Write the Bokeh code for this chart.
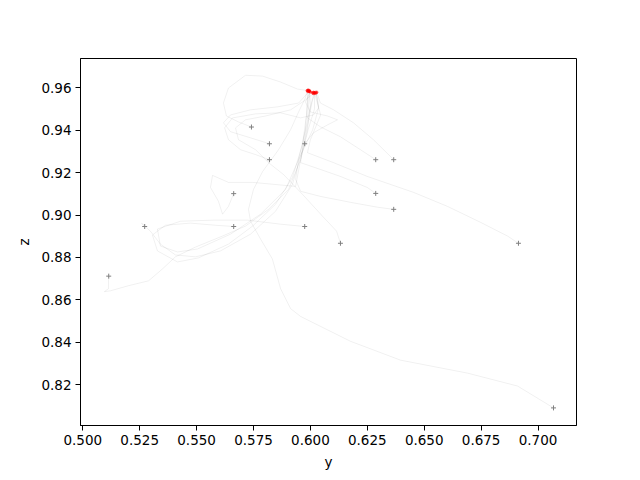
from bokeh.plotting import figure
from bokeh.models import Range1d, FixedTicker, NumeralTickFormatter
from bokeh.embed import file_html
from bokeh.resources import INLINE

# start points (grey '+')
start_x = [0.5114, 0.5272, 0.5663, 0.5663, 0.5741, 0.5820, 0.5820, 0.5975,
           0.5975, 0.6132, 0.6287, 0.6366, 0.6287, 0.6366, 0.6914, 0.7068]
start_y = [0.8712, 0.8946, 0.8946, 0.9101, 0.9415, 0.9336, 0.9261, 0.9336,
           0.8946, 0.8867, 0.9261, 0.9261, 0.9102, 0.9027, 0.8867, 0.8091]

# end points (red)
end_x = [0.5986, 0.5988, 0.5991, 0.5994, 0.5997, 0.6000, 0.5990, 0.5995,
         0.6010, 0.6013, 0.6016, 0.6019, 0.6022, 0.6025, 0.6028, 0.6014]
end_y = [0.9587, 0.9583, 0.9586, 0.9582, 0.9584, 0.9580, 0.9589, 0.9587,
         0.9576, 0.9573, 0.9577, 0.9574, 0.9578, 0.9575, 0.9579, 0.9579]

# trajectories
a_x = [0.5114, 0.5113, 0.5113, 0.5095, 0.5122, 0.5201, 0.5289, 0.5350, 0.5407, 0.5495, 0.5614, 0.5715, 0.5816, 0.5904, 0.5957, 0.5987, 0.6000, 0.5996]
a_y = [0.8712, 0.8686, 0.8653, 0.8639, 0.8643, 0.8667, 0.8690, 0.8746, 0.8803, 0.8849, 0.8901, 0.8948, 0.9027, 0.9121, 0.9261, 0.9402, 0.9519, 0.9580]
b_x = [0.5272, 0.5258, 0.5297, 0.5341, 0.5407, 0.5495, 0.5605, 0.5737, 0.5847, 0.5921, 0.5965, 0.5992, 0.6009, 0.6022]
b_y = [0.8946, 0.8962, 0.8924, 0.8863, 0.8812, 0.8803, 0.8831, 0.8910, 0.9018, 0.9144, 0.9308, 0.9449, 0.9542, 0.9575]
c_x = [0.5663, 0.5583, 0.5473, 0.5363, 0.5306, 0.5328, 0.5416, 0.5508, 0.5640, 0.5746, 0.5847, 0.5921, 0.5965, 0.5983, 0.5992]
c_y = [0.8946, 0.8952, 0.8962, 0.8952, 0.8906, 0.8831, 0.8779, 0.8798, 0.8863, 0.8948, 0.9051, 0.9177, 0.9332, 0.9472, 0.9583]
d_x = [0.5663, 0.5640, 0.5614, 0.5596, 0.5561, 0.5570, 0.5640, 0.5746, 0.5847, 0.5935, 0.5957, 0.5990, 0.6018, 0.6018]
d_y = [0.9101, 0.9041, 0.9004, 0.9065, 0.9130, 0.9187, 0.9154, 0.9154, 0.9144, 0.9135, 0.9261, 0.9402, 0.9500, 0.9574]
e_x = [0.5741, 0.5684, 0.5631, 0.5618, 0.5640, 0.5715, 0.5790, 0.5869, 0.5943, 0.5987]
e_y = [0.9415, 0.9439, 0.9467, 0.9528, 0.9599, 0.9659, 0.9655, 0.9627, 0.9594, 0.9587]
f_x = [0.5820, 0.5737, 0.5649, 0.5618, 0.5649, 0.5737, 0.5855, 0.5948, 0.5994]
f_y = [0.9336, 0.9364, 0.9393, 0.9435, 0.9472, 0.9496, 0.9510, 0.9528, 0.9582]
g_x = [0.5820, 0.5759, 0.5693, 0.5640, 0.5623, 0.5658, 0.5759, 0.5869, 0.5957, 0.6014, 0.6036, 0.6031, 0.6022]
g_y = [0.9261, 0.9285, 0.9308, 0.9355, 0.9411, 0.9458, 0.9477, 0.9482, 0.9458, 0.9472, 0.9505, 0.9552, 0.9578]
h_x = [0.5975, 0.6014, 0.6075, 0.6119, 0.6075, 0.6000, 0.5978, 0.6000]
h_y = [0.9336, 0.9388, 0.9425, 0.9449, 0.9467, 0.9486, 0.9533, 0.9580]
i_x = [0.5975, 0.5869, 0.5724, 0.5574, 0.5429, 0.5328, 0.5341, 0.5416, 0.5504, 0.5649, 0.5781, 0.5891, 0.5948, 0.5978, 0.5987, 0.5988]
i_y = [0.8946, 0.8957, 0.8976, 0.8976, 0.8971, 0.8934, 0.8854, 0.8826, 0.8840, 0.8910, 0.9004, 0.9121, 0.9261, 0.9402, 0.9542, 0.9583]
j_x = [0.6132, 0.6115, 0.6053, 0.5965, 0.5882, 0.5816, 0.5759, 0.5684, 0.5671, 0.5715, 0.5803, 0.5913, 0.5978, 0.6013]
j_y = [0.8867, 0.8924, 0.8995, 0.9098, 0.9191, 0.9247, 0.9308, 0.9355, 0.9411, 0.9449, 0.9467, 0.9496, 0.9542, 0.9573]
k_x = [0.6287, 0.6220, 0.6132, 0.6044, 0.5987, 0.5992, 0.5997]
k_y = [0.9261, 0.9308, 0.9369, 0.9416, 0.9458, 0.9519, 0.9584]
l_x = [0.6366, 0.6277, 0.6189, 0.6102, 0.6044, 0.6028]
l_y = [0.9261, 0.9355, 0.9435, 0.9496, 0.9528, 0.9579]
m_x = [0.6287, 0.6250, 0.6132, 0.6044, 0.5957, 0.5970, 0.5992, 0.6016]
m_y = [0.9102, 0.9130, 0.9182, 0.9215, 0.9247, 0.9355, 0.9472, 0.9577]
n_x = [0.6366, 0.6295, 0.6176, 0.6044, 0.5957, 0.5935, 0.5948, 0.6010, 0.6036, 0.6025]
n_y = [0.9027, 0.9037, 0.9060, 0.9088, 0.9112, 0.9168, 0.9261, 0.9402, 0.9505, 0.9575]
o_x = [0.6914, 0.6866, 0.6747, 0.6602, 0.6453, 0.6250, 0.6102, 0.5987, 0.6000, 0.6045, 0.6019]
o_y = [0.8867, 0.8901, 0.8966, 0.9041, 0.9107, 0.9182, 0.9247, 0.9294, 0.9355, 0.9472, 0.9574]
p_x = [0.7068, 0.6910, 0.6690, 0.6396, 0.6176, 0.5957, 0.5913, 0.5869, 0.5833, 0.5781, 0.5737, 0.5728, 0.5750, 0.5790, 0.5860, 0.5913, 0.5948, 0.5978, 0.5986]
p_y = [0.8091, 0.8194, 0.8255, 0.8316, 0.8405, 0.8522, 0.8559, 0.8653, 0.8793, 0.8887, 0.8971, 0.9027, 0.9121, 0.9205, 0.9308, 0.9402, 0.9486, 0.9552, 0.9587]

x_ticks = [0.500, 0.525, 0.550, 0.575, 0.600, 0.625, 0.650, 0.675, 0.700]
y_ticks = [0.82, 0.84, 0.86, 0.88, 0.90, 0.92, 0.94, 0.96]

xs = [a_x, b_x, c_x, d_x, e_x, f_x, g_x, h_x, i_x, j_x, k_x, l_x, m_x, n_x, o_x, p_x]
ys = [a_y, b_y, c_y, d_y, e_y, f_y, g_y, h_y, i_y, j_y, k_y, l_y, m_y, n_y, o_y, p_y]

p = figure(width=632, height=472, output_backend="svg", toolbar_location=None,
           x_range=Range1d(0.499, 0.7169), y_range=Range1d(0.8008, 0.9738),
           min_border_left=80, min_border_right=56, min_border_top=58, min_border_bottom=45)
p.background_fill_color = "white"
p.border_fill_color = "white"
p.outline_line_color = "black"
p.outline_line_width = 1
p.grid.visible = False

p.multi_line(xs=xs, ys=ys, line_color="black", line_alpha=0.08, line_width=0.8)
p.scatter(start_x, start_y, marker="cross", size=5, line_color="#808080", line_width=1)
p.scatter(end_x, end_y, marker="circle", size=2.5, fill_color="red", line_color="red", alpha=0.45)

for ax in (p.xaxis[0], p.yaxis[0]):
    ax.axis_line_color = "black"
    ax.major_tick_line_color = "black"
    ax.major_tick_out = 5
    ax.major_tick_in = 0
    ax.minor_tick_out = 0
    ax.minor_tick_in = 0
    ax.major_label_text_font = "DejaVu Sans"
    ax.major_label_text_font_size = "13.5px"
    ax.major_label_text_color = "black"
    ax.major_label_standoff = 4
    ax.axis_label_text_font = "DejaVu Sans"
    ax.axis_label_text_font_size = "13.5px"
    ax.axis_label_text_font_style = "normal"
    ax.axis_label_text_color = "black"
    ax.axis_label_standoff = 6

p.xaxis.ticker = FixedTicker(ticks=x_ticks)
p.yaxis.ticker = FixedTicker(ticks=y_ticks)
p.xaxis.formatter = NumeralTickFormatter(format="0.000")
p.yaxis.formatter = NumeralTickFormatter(format="0.00")
p.xaxis.axis_label = "y"
p.yaxis.axis_label = "z"

open("out.html", "w").write(file_html(p, INLINE))
